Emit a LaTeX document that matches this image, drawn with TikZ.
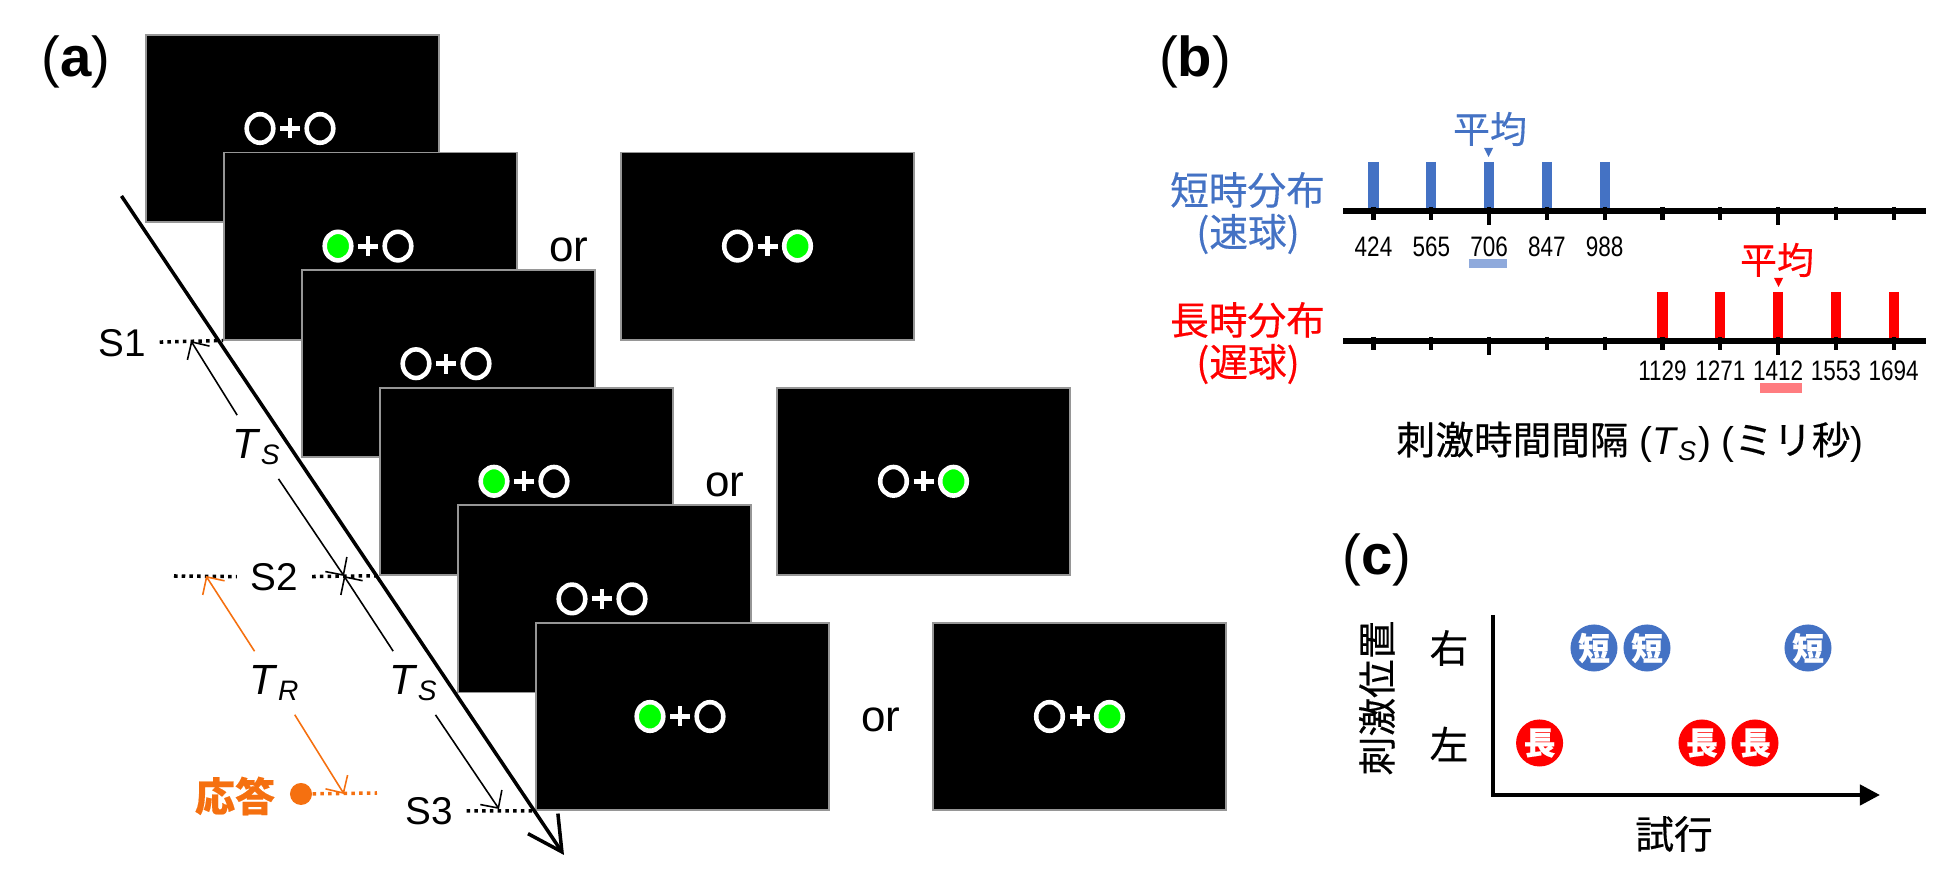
\documentclass[tikz,border=0pt]{standalone}
\usepackage{fontspec}
\setmainfont{Liberation Sans}
\newfontfamily\jp[FakeBold=0.4]{Noto Sans CJK JP}
\newfontfamily\narrowfont[FakeStretch=0.8]{Liberation Sans}
\usetikzlibrary{arrows.meta,calc,shapes.geometric}
\definecolor{cblue}{RGB}{68,114,196}
\definecolor{cbluelt}{RGB}{143,170,220}
\definecolor{cred}{RGB}{255,0,0}
\definecolor{credlt}{RGB}{255,124,128}
\definecolor{corange}{RGB}{245,112,16}
\definecolor{cuegreen}{RGB}{0,255,0}
\definecolor{rim}{RGB}{150,150,150}
\tikzset{
  >={Straight Barb[length=1.3mm,width=2.6mm]},
  screen/.style={fill=black,draw=rim,line width=0.5pt,minimum width=2.93cm,
    minimum height=1.87cm,inner sep=0pt},
  lab/.style={font=\fontsize{11}{13}\selectfont,inner sep=3.8pt},
  tlab/.style={font=\fontsize{12}{14}\selectfont,inner sep=3.8pt},
  ortext/.style={font=\fontsize{12.5}{15}\selectfont},
  panel/.style={font=\fontsize{16}{19}\selectfont},
  jlab/.style={font=\jp\fontsize{11}{13}\selectfont,text=#1},
  jlab/.default=black,
  dots/.style={draw=#1,line width=1pt,dash pattern=on 1pt off 1.2pt},
  dots/.default=black,
  span/.style={->,draw=#1,line width=0.45pt},
  span/.default=black,
  num/.style={font=\narrowfont\fontsize{8}{10}\selectfont},
  bar/.style={line width=2.85pt,draw=#1},
  tick/.style={line width=1.2pt},
  axis/.style={line width=1.5pt},
  trial/.style={circle,fill=#1,text=white,minimum size=0.47cm,inner sep=0pt,
    font=\jp\bfseries\fontsize{9}{10}\selectfont},
  % stimulus: two rings and a fixation cross
  pics/cue/.style 2 args={code={
    \draw[white,line width=1.3pt,fill=#1] (-30,0) ellipse [x radius=13.3,y radius=14.3];
    \draw[white,line width=1.3pt,fill=#2] (30,0) ellipse [x radius=13.3,y radius=14.3];
    \draw[white,line width=1.4pt] (-10,0) -- (10,0) (0,-10) -- (0,10);
  }},
}
\begin{document}
\begin{tikzpicture}[x=0.01cm,y=-0.01cm]
  \useasboundingbox (0,0) rectangle (1950,883);
  % (a)
  \node[panel] (pa) at (76,62) {(\textbf{a})};
  \foreach \i/\fillc in {1/black,2/cuegreen,3/black,4/cuegreen,5/black,6/cuegreen}{
    \node[screen] (sc\i) at ({292.5+78*(\i-1)},{128.5+117.6*(\i-1)}) {};
    \pic at ([xshift=-0.025cm]sc\i) {cue={\fillc}{black}};
  }
  \foreach \i/\n in {2/1,4/2,6/3}{
    \node[screen] (alt\n) at ($(sc\i)+(397,0)$) {};
    \pic at (alt\n) {cue={black}{cuegreen}};
    \node[ortext] (or\n) at ($(sc\i)+(198.5,3.5)$) {or};
  }
  \coordinate (tl0) at (121.5,196);
  \coordinate (tl1) at (564,855);
  \draw[line width=1pt,-{Straight Barb[length=3.4mm,width=3.6mm]}] (tl0) -- (tl1);

  \node[lab] (S1) at (122,343) {S1};
  \node[lab] (S2) at (274.5,577) {S2};
  \node[lab] (S3) at (429,811) {S3};
  \coordinate (d2) at (174,576);
  \draw[dots] (S1) -- (sc2.south west);
  \draw[dots] (d2) -- (S2);
  \draw[dots] (S2) -- (sc4.south west);
  \draw[dots] (S3) -- (sc6.south west);

  \coordinate (a1) at (191,341);
  \coordinate (a2) at (344,576);
  \coordinate (a3) at (499,809);
  \coordinate (r2) at (206,576);
  \coordinate (r3) at (344,794);
  \node[tlab] (ts1) at (257,447) {\textit{T}\textsubscript{\textit{S}}};
  \node[tlab] (ts2) at (414,683) {\textit{T}\textsubscript{\textit{S}}};
  \node[tlab] (tr) at (275,683) {\textit{T}\textsubscript{\textit{R}}};
  \draw[span] (ts1) -- (a1);
  \draw[span] (ts1) -- (a2);
  \draw[span] (ts2) -- (a2);
  \draw[span] (ts2) -- (a3);
  \draw[span=corange] (tr) -- (r2);
  \draw[span=corange] (tr) -- (r3);

  \node[circle,fill=corange,minimum size=0.22cm,inner sep=0pt] (resp) at (301,794) {};
  \node[jlab=corange,font=\jp\bfseries\fontsize{11.4}{13}\selectfont] (ans) at (235,796) {応答};
  \coordinate (r4) at (377,793);
  \draw[dots=corange] (resp) -- (r4);

  % (b)
  \node[panel] (pb) at (1195,62) {(\textbf{b})};
  \node[jlab=cblue] (fast) at (1247.5,190) {短時分布};
  \node[jlab=cblue] (fastsub) at (1248,234) {(速球)};
  \node[jlab=cred] (slow) at (1247.5,320) {長時分布};
  \node[jlab=cred] (slowsub) at (1248,364) {(遅球)};

  \foreach \k/\v in {0/424,1/565,2/706,3/847,4/988}{
    \draw[bar=cblue] ({1373.5+57.8*\k},162) -- ({1373.5+57.8*\k},211);
    \node[num] (v\v) at ({1373.5+57.8*\k},247) {\v};
  }
  \foreach \k/\v in {5/1129,6/1271,7/1412,8/1553,9/1694}{
    \draw[bar=cred] ({1373.5+57.8*\k},292) -- ({1373.5+57.8*\k},341);
    \node[num] (v\v) at ({1373.5+57.8*\k},371) {\v};
  }
  \draw[axis] (1343,211) -- (1925.5,211);
  \draw[axis] (1343,341) -- (1925.5,341);
  \foreach \k in {0,...,9}{
    \draw[tick] ({1373.5+57.8*\k},207) -- ++(0,13);
    \draw[tick] ({1373.5+57.8*\k},337) -- ++(0,13);
  }
  \foreach \k in {2,7}{
    \draw[tick] ({1373.5+57.8*\k},207) -- ++(0,18);
    \draw[tick] ({1373.5+57.8*\k},337) -- ++(0,18);
  }

  \node[jlab=cblue,font=\jp\fontsize{10.5}{12}\selectfont] (meanS) at (1490,129) {平均};
  \fill[cblue] (1484,148) -- (1493,148) -- (1488.5,157) -- cycle;
  \fill[cbluelt] (1469,259) rectangle (1507,268);
  \node[jlab=cred,font=\jp\fontsize{10.5}{12}\selectfont] (meanL) at (1777,260) {平均};
  \fill[cred] (1774,278) -- (1783,278) -- (1778.5,287) -- cycle;
  \fill[credlt] (1760,383) rectangle (1802,393);

  \node[font=\fontsize{11}{13}\selectfont] (xlab) at (1630,442)
    {{\jp 刺激時間間隔} (\textit{T}\textsubscript{\textit{S}}) ({\jp ミリ秒})};

  % (c)
  \node[panel] (pc) at (1377,560) {(\textbf{c})};
  \coordinate (yt) at (1493,615);
  \coordinate (xt) at (1880,795);
  \draw[line width=1.2pt,-{Triangle[length=2mm,width=2mm]}] (yt) |- (xt);
  \node[jlab,rotate=90] (ylab) at (1377,698) {刺激位置};
  \node[jlab] (rgt) at (1449,648) {右};
  \node[jlab] (lft) at (1449,744) {左};
  \node[jlab] (xlab2) at (1674,834) {試行};
  \foreach \x [count=\j] in {1594,1647,1808}
    \node[trial=cblue] (sh\j) at (\x,648) {短};
  \foreach \x [count=\j] in {1539.6,1702,1755}
    \node[trial=cred] (lo\j) at (\x,743) {長};
\end{tikzpicture}
\end{document}
